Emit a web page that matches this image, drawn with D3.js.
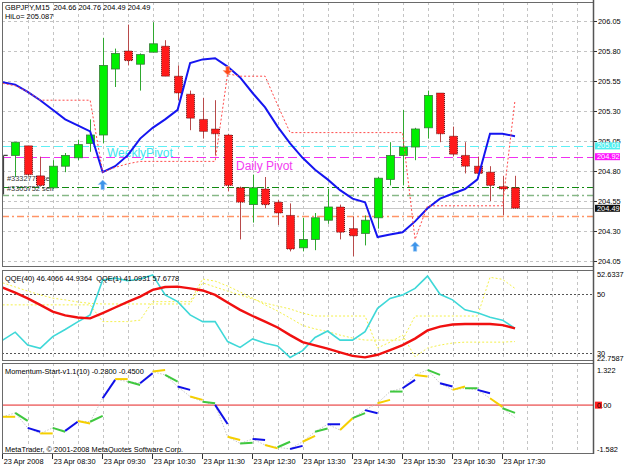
<!DOCTYPE html>
<html>
<head>
<meta charset="utf-8">
<script src="https://cdn.jsdelivr.net/npm/d3@7"></script>
<style>
  body { margin: 0; background: #fff; }
  svg { display: block; font-family: 'Liberation Sans', Arial, sans-serif; }
</style>
</head>
<body>
<svg id="chart" width="625" height="469"></svg>
<script>
// ---------- data ----------
const timeLabels = ['23 Apr 2008', '23 Apr 08:30', '23 Apr 09:30', '23 Apr 10:30', '23 Apr 11:30',
  '23 Apr 12:30', '23 Apr 13:30', '23 Apr 14:30', '23 Apr 15:30', '23 Apr 16:30', '23 Apr 17:30'];
const timeLabelBars = [0, 4, 8, 12, 16, 20, 24, 28, 32, 36, 40];

const priceTicks = [206.05, 205.80, 205.55, 205.30, 205.05, 204.80, 204.55, 204.30, 204.05];

// candles, bars 1..41 (bar 0 sits under the left frame)
const candleBars = d3.range(1, 42);
const candleOpen = [204.93, 205.01, 204.76, 204.66, 204.84, 204.91, 205.03, 205.10, 205.65, 205.80, 205.69, 205.79, 205.84, 205.59, 205.44, 205.23, 205.15, 205.10, 204.66, 204.52, 204.65, 204.54, 204.43, 204.16, 204.23, 204.39, 204.50, 204.32, 204.28, 204.41, 204.73, 204.93, 205.00, 205.16, 205.45, 205.09, 204.93, 204.84, 204.79, 204.67, 204.66];
const candleHigh = [205.04, 205.01, 204.92, 204.89, 204.95, 205.06, 205.23, 205.91, 205.82, 206.02, 205.78, 206.04, 205.89, 205.68, 205.47, 205.41, 205.39, 205.11, 204.67, 204.77, 204.75, 204.56, 204.53, 204.41, 204.45, 204.65, 204.52, 204.42, 204.43, 204.75, 205.04, 205.31, 205.16, 205.47, 205.45, 205.17, 205.04, 204.92, 204.84, 204.76, 204.76];
const candleLow = [204.75, 204.76, 204.67, 204.65, 204.79, 204.89, 204.96, 205.03, 205.50, 205.68, 205.47, 205.79, 205.59, 205.39, 205.14, 205.07, 204.93, 204.63, 204.23, 204.37, 204.49, 204.35, 204.13, 204.13, 204.14, 204.36, 204.23, 204.09, 204.18, 204.32, 204.68, 204.68, 204.89, 205.07, 205.04, 204.92, 204.78, 204.74, 204.55, 204.43, 204.49];
const candleClose = [205.04, 204.77, 204.68, 204.84, 204.93, 205.02, 205.10, 205.68, 205.78, 205.72, 205.77, 205.86, 205.59, 205.45, 205.24, 205.13, 205.11, 204.68, 204.54, 204.66, 204.52, 204.45, 204.15, 204.23, 204.41, 204.50, 204.29, 204.26, 204.39, 204.74, 204.93, 205.00, 205.15, 205.43, 205.11, 204.94, 204.84, 204.78, 204.68, 204.65, 204.49];

// HiLo (blue) and its trailing stop (red dotted), bars 0..41
const hiloLine = [205.54, 205.52, 205.46, 205.39, 205.31, 205.23, 205.18, 205.13, 204.79, 204.84, 204.93, 205.07, 205.16, 205.23, 205.31, 205.70, 205.73, 205.74, 205.67, 205.58, 205.45, 205.33, 205.17, 205.03, 204.91, 204.81, 204.73, 204.64, 204.57, 204.54, 204.25, 204.27, 204.29, 204.38, 204.49, 204.57, 204.61, 204.65, 204.73, 205.11, 205.11, 205.09];
const hiloValue = '205.087';
const stopLine = [205.53, 205.51, 205.46, 205.39, 205.39, 205.39, 205.39, 205.39, 204.79, 204.83, 204.86, 204.88, 204.88, 204.88, 204.88, 204.88, 204.88, 204.88, 205.61, 205.59, 205.59, 205.59, 205.35, 205.12, 205.12, 205.12, 205.12, 205.12, 205.12, 205.12, 205.12, 205.12, 205.12, 204.23, 204.51, 204.51, 204.51, 204.51, 204.51, 204.51, 204.51, 205.39];

const buyArrowBars = [8, 33];
const buyArrowPrices = [204.725, 204.21];
const sellArrowBars = [18];
const sellArrowPrices = [205.60];

// horizontal objects
const weeklyPivot = 205.01;
const dailyPivot = 204.92;
const orderPrices = [204.67, 204.60];
const orderLabels = ['#3332770 sell', '#3305752 sell'];
const orderLabelPrices = [204.74, 204.655];
const bidPrice = 204.49;
const supportPrice = 204.425;

// QQE window, bars 0..41
const qqeRed = [52.3, 50.6, 48.6, 46.4, 44.1, 42.8, 42.1, 41.8, 43.6, 45.5, 47.4, 49.2, 51.5, 52.5, 52.6, 52.0, 51.3, 49.8, 47.2, 44.7, 42.6, 40.7, 38.7, 36.1, 33.7, 32.6, 31.5, 30.2, 29.0, 28.5, 29.4, 31.0, 32.7, 34.9, 37.7, 39.0, 39.7, 39.9, 39.9, 39.9, 39.5, 38.4];
const qqeCyan = [34.4, 37.1, 32.7, 31.6, 35.6, 38.0, 40.6, 43.0, 54.9, 55.5, 54.6, 55.2, 56.6, 49.8, 47.5, 43.0, 40.7, 40.7, 33.9, 31.9, 34.8, 33.3, 32.4, 28.5, 30.8, 35.3, 37.5, 34.4, 34.4, 37.3, 45.2, 48.6, 49.8, 52.0, 56.2, 50.0, 48.1, 44.7, 43.7, 42.2, 41.2, 38.4];
const qqeTrailA = [53.9, 52.5, 51.1, 49.8, 48.7, 48.1, 47.4, 46.9, 46.7, 46.7, 46.7, 46.7, 46.7, 46.7, 46.7, 46.7, 53.9, 52.5, 51.1, 49.8, 48.4, 47.0, 46.0, 45.0, 43.6, 42.6, 42.6, 42.6, 42.6, 42.6, 31.7, 33.7, 36.1, 28.7, 31.7, 32.7, 33.4, 33.7, 33.7, 33.7, 33.7, 33.9];
const qqeTrailB = [46.4, 46.4, 46.4, 46.4, 46.4, 46.4, 46.4, 46.4, 40.7, 40.7, 40.7, 41.2, 47.5, 47.5, 47.5, 47.5, 55.2, 54.5, 52.8, 50.8, 48.7, 46.4, 44.3, 41.9, 39.4, 38.2, 37.3, 36.1, 35.1, 34.4, 34.4, 34.4, 34.4, 42.6, 42.6, 42.6, 42.6, 42.6, 42.6, 55.8, 55.1, 52.0];
const qqeLevels = [50, 30];
const qqeScaleLabels = ['52.6337', '22.7587'];

// Momentum-Start: gray line per bar, coloured pieces run from bar j to j+1
const momLine = [-0.42, -0.28, -0.82, -1.02, -0.82, -0.93, -0.57, -0.60, 0.25, 0.94, 0.85, 0.79, 1.21, 1.09, 0.67, 0.31, 0.12, 0.01, -1.14, -1.38, -1.22, -1.44, -1.52, -1.58, -1.32, -0.96, -0.69, -0.90, -0.47, -0.18, 0.07, 0.49, 0.61, 1.09, 1.27, 0.79, 0.55, 0.61, 0.55, 0.25, -0.11, -0.45];
const momSegEnd = [-0.42, -0.57, -0.96, -1.02, -0.96, -0.60, -0.66, -0.39, 0.91, 0.94, 0.73, 1.15, 1.27, 0.85, 0.55, 0.19, 0.07, -0.68, -1.26, -1.36, -1.26, -1.56, -1.32, -1.47, -1.11, -0.84, -0.69, -0.47, -0.29, -0.29, 0.19, 0.49, 0.91, 1.03, 1.09, 0.67, 0.67, 0.61, 0.43, -0.06, -0.28];
const momMax = 1.322, momMin = -1.582;

// ---------- layout ----------
const L = 2, R = 594;
const mainP = {top: 2, bottom: 267};
const qqeP = {top: 270, bottom: 361};
const momP = {top: 363, bottom: 454};
const fs = 7.4;

const svg = d3.select('#chart');
svg.append('rect').attr('width', 625).attr('height', 469).attr('fill', '#fff');

const x = d3.scaleLinear().domain([0, 41]).range([2.7, 515]);
const yP = d3.scaleLinear().domain([204.05, 206.05]).range([261, 21]);
const yQ = d3.scaleLinear().domain([30, 50]).range([353, 294.3]);
const yM = d3.scaleLinear().domain([momMin, momMax]).range([449, 368.5]);

const defs = svg.append('defs');
[['clipMain', mainP], ['clipQqe', qqeP], ['clipMom', momP]].forEach(([id, p]) => {
  defs.append('clipPath').attr('id', id).append('rect')
    .attr('x', L).attr('y', p.top).attr('width', R - L).attr('height', p.bottom - p.top);
});

// vertical grid every 30 minutes in every window
const gridBars = d3.range(2, 47, 2);
[mainP, qqeP, momP].forEach(p => {
  svg.append('g').selectAll('line').data(gridBars).join('line')
    .attr('x1', d => Math.round(x(d)) + 0.5).attr('x2', d => Math.round(x(d)) + 0.5)
    .attr('y1', p.top).attr('y2', p.bottom)
    .attr('stroke', '#c4c4c4').attr('stroke-dasharray', '3,3');
});

// horizontal grid on price ticks
svg.append('g').selectAll('line').data(priceTicks).join('line')
  .attr('x1', L).attr('x2', R)
  .attr('y1', d => Math.round(yP(d)) + 0.5).attr('y2', d => Math.round(yP(d)) + 0.5)
  .attr('stroke', '#c4c4c4').attr('stroke-dasharray', '3,3');

// ---------- main window ----------
const main = svg.append('g').attr('clip-path', 'url(#clipMain)');

function hline(g, price, color, dash, w) {
  g.append('line').attr('x1', L).attr('x2', R)
    .attr('y1', Math.round(yP(price)) + 0.5).attr('y2', Math.round(yP(price)) + 0.5)
    .attr('stroke', color).attr('stroke-width', w || 1)
    .attr('stroke-dasharray', dash);
}
hline(main, weeklyPivot, '#5ff0f5', '9,4');
hline(main, dailyPivot, '#f030f0', '9,4');
hline(main, orderPrices[0], '#118a11', '7,3,2,3');
hline(main, orderPrices[1], '#86b886', '7,3,2,3', 1.5);
hline(main, bidPrice, '#c8c8c8', null);
hline(main, supportPrice, '#ff9466', '7,3,2,3', 1.5);

// order tickets text (candles paint over it)
main.selectAll('text.order').data(orderLabels).join('text')
  .attr('class', 'order')
  .attr('x', 7).attr('y', (d, i) => yP(orderLabelPrices[i]) + 3)
  .attr('font-size', fs).attr('fill', '#333')
  .text(d => d);
main.append('path')
  .attr('d', `M${x(0) + 0.8},${yP(204.93)} V${yP(204.605)} M${x(0) + 0.8},${yP(204.93)} H${x(0) + 5}`)
  .attr('stroke', '#444').attr('stroke-width', 1.2).attr('fill', 'none');

// candles
const candles = candleBars.map((b, i) => ({bar: b, o: candleOpen[i], h: candleHigh[i], l: candleLow[i], c: candleClose[i]}));
const cg = main.append('g');
cg.selectAll('line').data(candles).join('line')
  .attr('x1', d => Math.round(x(d.bar)) + 0.5).attr('x2', d => Math.round(x(d.bar)) + 0.5)
  .attr('y1', d => yP(d.h)).attr('y2', d => yP(d.l))
  .attr('stroke', d => d.c >= d.o ? '#2fa82f' : '#b84a4a');
cg.selectAll('rect').data(candles).join('rect')
  .attr('x', d => Math.round(x(d.bar)) - 3.5)
  .attr('width', 8)
  .attr('y', d => yP(Math.max(d.o, d.c)))
  .attr('height', d => Math.max(1.5, Math.abs(yP(d.o) - yP(d.c))))
  .attr('fill', d => d.c >= d.o ? '#00f000' : '#ff1a1a')
  .attr('stroke', d => d.c >= d.o ? '#3a7a3a' : '#300')
  .attr('stroke-dasharray', d => d.c >= d.o ? null : '1,1')
  .attr('stroke-width', 0.8);

// pivot captions
main.append('text').attr('x', 107).attr('y', yP(weeklyPivot) + 11)
  .attr('font-size', 12).attr('fill', '#40e6f0').text('WeeklyPivot');
main.append('text').attr('x', 236).attr('y', yP(dailyPivot) + 13)
  .attr('font-size', 12).attr('fill', '#f23cf2').text('Daily Pivot');

// HiLo blue line and red dotted stop
main.append('path').datum(hiloLine)
  .attr('d', d3.line().x((d, i) => x(i)).y(d => yP(d)))
  .attr('fill', 'none').attr('stroke', '#1515f0').attr('stroke-width', 2);
main.append('path').datum(stopLine)
  .attr('d', d3.line().x((d, i) => x(i)).y(d => yP(d)))
  .attr('fill', 'none').attr('stroke', '#ff4a4a').attr('stroke-width', 1)
  .attr('stroke-dasharray', '2,2');

// signal arrows
buyArrowBars.forEach((b, i) => {
  const cx = x(b), ty = yP(buyArrowPrices[i]);
  main.append('path')
    .attr('d', `M${cx},${ty} l4.5,4.5 h-2.8 v5 h-3.4 v-5 h-2.8 z`)
    .attr('fill', '#3d94ea').attr('stroke', '#9cc9f5').attr('stroke-width', 0.6);
});
sellArrowBars.forEach((b, i) => {
  const cx = x(b), by = yP(sellArrowPrices[i]);
  main.append('path')
    .attr('d', `M${cx},${by} l4.5,-4.5 h-2.8 v-4 h-3.4 v4 h-2.8 z`)
    .attr('fill', '#ff4a1a').attr('stroke', '#ff9b7a').attr('stroke-width', 0.6);
});

// header
svg.append('text').attr('x', 5).attr('y', 10).attr('font-size', fs).attr('fill', '#000')
  .text('GBPJPY,M15\u00a0\u00a0204.66 204.76 204.49 204.49');
svg.append('text').attr('x', 5).attr('y', 19).attr('font-size', fs).attr('fill', '#000')
  .text('HiLo= ' + hiloValue);

// ---------- QQE window ----------
const qg = svg.append('g').attr('clip-path', 'url(#clipQqe)');
qg.selectAll('line.lvl').data(qqeLevels).join('line').attr('class', 'lvl')
  .attr('x1', L).attr('x2', R)
  .attr('y1', d => Math.round(yQ(d)) + 0.5).attr('y2', d => Math.round(yQ(d)) + 0.5)
  .attr('stroke', '#555').attr('stroke-dasharray', '2,2');
const qline = d3.line().x((d, i) => x(i)).y(d => yQ(d));
[qqeTrailA, qqeTrailB].forEach(s => {
  qg.append('path').datum(s).attr('d', qline).attr('fill', 'none')
    .attr('stroke', '#f4f04a').attr('stroke-width', 1).attr('stroke-dasharray', '2,2');
});
qg.append('path').datum(qqeCyan).attr('d', qline).attr('fill', 'none')
  .attr('stroke', '#3fd8d8').attr('stroke-width', 1.6);
qg.append('path').datum(qqeRed).attr('d', qline).attr('fill', 'none')
  .attr('stroke', '#f01010').attr('stroke-width', 2.4);
svg.append('text').attr('x', 5).attr('y', 281).attr('font-size', fs).attr('fill', '#000')
  .text('QQE(40) 46.4066 44.9364\u00a0\u00a0QQE(1) 41.0931 57.6778');
svg.append('line').attr('x1', L).attr('x2', R).attr('y1', qqeP.bottom - 0.5).attr('y2', qqeP.bottom - 0.5)
  .attr('stroke', '#3344aa').attr('stroke-dasharray', '1,1');

// ---------- Momentum window ----------
const mg = svg.append('g').attr('clip-path', 'url(#clipMom)');
mg.append('line').attr('x1', L).attr('x2', R).attr('y1', yM(0)).attr('y2', yM(0))
  .attr('stroke', '#f08080').attr('stroke-width', 1.6);
mg.append('path').datum(momLine)
  .attr('d', d3.line().x((d, i) => x(i)).y(d => yM(d)))
  .attr('fill', 'none').attr('stroke', '#c8c8c8').attr('stroke-dasharray', '1.5,1.5');
const segColors = ['#f5cf00', '#3fc83f', '#1010e8'];
mg.selectAll('line.seg').data(momSegEnd).join('line').attr('class', 'seg')
  .attr('x1', (d, j) => x(j)).attr('y1', (d, j) => yM(momLine[j]))
  .attr('x2', (d, j) => x(j + 1)).attr('y2', d => yM(d))
  .attr('stroke', (d, j) => segColors[j % 3]).attr('stroke-width', 2);
svg.append('text').attr('x', 5).attr('y', 374).attr('font-size', fs).attr('fill', '#000')
  .text('Momentum-Start-v1.1(10) -0.2800 -0.4500');
svg.append('text').attr('x', 5).attr('y', 452).attr('font-size', fs).attr('fill', '#000')
  .text('MetaTrader, \u00a9 2001-2008 MetaQuotes Software Corp.');

// ---------- frames ----------
[mainP, qqeP, momP].forEach(p => {
  svg.append('rect').attr('x', L + 0.5).attr('y', p.top + 0.5)
    .attr('width', R - L - 1).attr('height', p.bottom - p.top - 1)
    .attr('fill', 'none').attr('stroke', '#6a6a6a');
});
svg.append('line').attr('x1', R - 0.5).attr('x2', R - 0.5).attr('y1', 0).attr('y2', momP.bottom)
  .attr('stroke', '#555').attr('stroke-width', 1.5);

// ---------- right scale ----------
const rs = svg.append('g');
rs.selectAll('text.pt').data(priceTicks).join('text').attr('class', 'pt')
  .attr('x', 598).attr('y', d => yP(d) + 2.6).attr('font-size', fs).text(d => d.toFixed(2));
rs.selectAll('line.pt').data(priceTicks).join('line').attr('class', 'pt')
  .attr('x1', R).attr('x2', R + 3).attr('y1', d => Math.round(yP(d)) + 0.5).attr('y2', d => Math.round(yP(d)) + 0.5)
  .attr('stroke', '#333');

function tag(y, text, bg, fg) {
  rs.append('rect').attr('x', 595).attr('y', y - 3.4).attr('width', 25).attr('height', 7).attr('fill', bg);
  rs.append('text').attr('x', 597).attr('y', y + 2.6).attr('font-size', fs).attr('fill', fg).text(text);
}
tag(yP(weeklyPivot), weeklyPivot.toFixed(2), '#4ef0f0', '#fff');
tag(yP(dailyPivot), dailyPivot.toFixed(2), '#ff10ff', '#fff');
tag(yP(bidPrice), bidPrice.toFixed(2), '#111', '#fff');

// QQE scale
rs.append('text').attr('x', 597).attr('y', qqeP.top + 7).attr('font-size', fs).text(qqeScaleLabels[0]);
rs.selectAll('text.ql').data(qqeLevels).join('text').attr('class', 'ql')
  .attr('x', 597).attr('y', d => yQ(d) + 2.6).attr('font-size', fs).text(d => d);
rs.append('text').attr('x', 597).attr('y', yQ(30) + 8).attr('font-size', fs).text(qqeScaleLabels[1]);

// momentum scale
rs.append('text').attr('x', 597).attr('y', yM(momMax) + 4).attr('font-size', fs).text(momMax.toFixed(3));
rs.append('rect').attr('x', 595).attr('y', yM(0) - 3.5).attr('width', 7).attr('height', 7).attr('fill', '#ff2020');
rs.append('text').attr('x', 597).attr('y', yM(0) + 2.6).attr('font-size', fs).text('0.00');
rs.append('text').attr('x', 597).attr('y', yM(momMin) + 3).attr('font-size', fs).text(momMin.toFixed(3));

// ---------- time axis ----------
const ta = svg.append('g');
ta.selectAll('line').data(timeLabelBars).join('line')
  .attr('x1', d => Math.round(x(d)) - 0.5).attr('x2', d => Math.round(x(d)) - 0.5)
  .attr('y1', momP.bottom).attr('y2', momP.bottom + 5).attr('stroke', '#333');
ta.selectAll('text').data(timeLabels).join('text')
  .attr('x', (d, i) => x(timeLabelBars[i]) + 1).attr('y', 464)
  .attr('font-size', fs).attr('fill', '#000').text(d => d);
</script>
</body>
</html>
